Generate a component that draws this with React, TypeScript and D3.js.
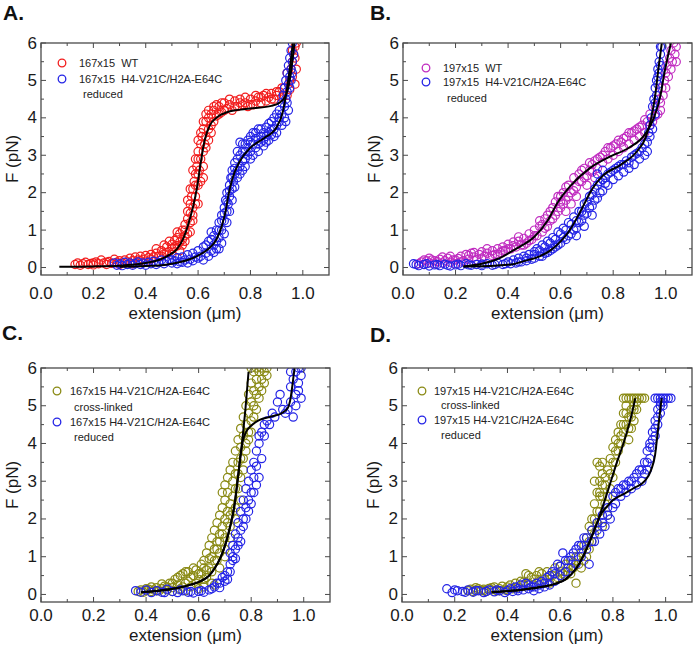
import React from 'react';
import * as d3 from 'd3';

type P = [number, number];

// ---------- axis values ----------
const X_DOMAIN: [number, number] = [0, 1.1];
const Y_DOMAIN: [number, number] = [-0.2, 6];
const xMajorTicks = [0, 0.2, 0.4, 0.6, 0.8, 1.0];
const xTickLabels = ['0.0', '0.2', '0.4', '0.6', '0.8', '1.0'];
const xMinorTicks = [0.1, 0.3, 0.5, 0.7, 0.9];
const yMajorTicks = [0, 1, 2, 3, 4, 5, 6];
const yTickLabels = ['0', '1', '2', '3', '4', '5', '6'];
const yMinorTicks = [0.5, 1.5, 2.5, 3.5, 4.5, 5.5];
const panelLetters = ['A.', 'B.', 'C.', 'D.'];
const xTitle = 'extension (μm)';
const yTitle = 'F (pN)';

// ---------- Panel A ----------
const aWT167: P[] = [
  [0.13,0.08],[0.14,0.12],[0.15,0.06],[0.16,0.1],[0.17,0.14],[0.18,0.08],[0.19,0.11],[0.2,0.07],[0.21,0.15],[0.22,0.1],
  [0.23,0.2],[0.24,0.12],[0.25,0.08],[0.26,0.16],[0.27,0.11],[0.28,0.22],[0.29,0.14],[0.3,0.18],[0.31,0.12],[0.32,0.2],
  [0.33,0.15],[0.34,0.25],[0.35,0.18],[0.36,0.28],[0.37,0.2],[0.38,0.3],[0.39,0.22],[0.4,0.32],[0.41,0.26],[0.42,0.35],
  [0.43,0.28],[0.44,0.38],[0.45,0.3],[0.46,0.45],[0.47,0.36],[0.48,0.55],[0.49,0.42],[0.5,0.62],[0.5,0.5],[0.51,0.72],
  [0.52,0.58],[0.52,0.8],[0.53,0.68],[0.53,0.9],[0.54,0.75],[0.54,1.0],[0.55,0.85],[0.55,1.15],[0.56,1.3],[0.56,1.5],
  [0.57,1.2],[0.57,1.7],[0.575,1.9],[0.58,1.6],[0.58,2.1],[0.585,2.3],[0.59,1.9],[0.59,2.5],[0.595,2.7],[0.6,2.2],
  [0.6,2.9],[0.6,3.1],[0.605,2.6],[0.61,3.3],[0.61,2.9],[0.615,3.5],[0.62,3.1],[0.62,3.7],[0.625,3.3],[0.63,3.9],
  [0.63,3.5],[0.64,4.0],[0.64,3.7],[0.65,4.1],[0.65,3.8],[0.66,4.2],[0.66,3.9],[0.67,4.05],[0.57,0.95],[0.58,1.25],
  [0.6,1.7],[0.62,2.4],[0.68,4.3],[0.69,4.15],[0.7,4.4],[0.71,4.25],[0.72,4.35],[0.73,4.2],[0.74,4.45],[0.75,4.3],
  [0.76,4.5],[0.77,4.35],[0.78,4.4],[0.79,4.3],[0.8,4.5],[0.81,4.35],[0.82,4.45],[0.83,4.55],[0.84,4.4],[0.85,4.6],
  [0.86,4.45],[0.87,4.55],[0.88,4.65],[0.89,4.5],[0.9,4.6],[0.91,4.7],[0.92,4.55],[0.93,4.8],[0.94,4.6],[0.95,5.0],
  [0.95,4.75],[0.955,5.3],[0.96,5.5],[0.96,5.1],[0.965,5.7],[0.97,5.9],[0.975,6.0],[0.97,5.6],[0.97,4.9],[0.975,5.3],
  [0.44,0.5],[0.46,0.3],[0.47,0.6],[0.48,0.4],[0.49,0.7],[0.5,0.35],[0.51,0.55],[0.52,0.95],[0.53,0.45],[0.54,0.6],
  [0.55,1.0],[0.55,0.7],[0.56,0.9],[0.56,1.8],[0.57,1.45],[0.57,2.1],[0.58,1.4],[0.58,2.6],[0.59,2.2],[0.59,1.7],
  [0.59,2.9],[0.6,2.5],[0.6,3.4],[0.61,2.3],[0.61,3.6],[0.62,2.7],[0.62,3.9],[0.63,3.2],[0.63,4.1],[0.64,3.4],
  [0.64,4.2],[0.65,3.6],[0.66,4.3],[0.67,4.35],[0.68,4.1],[0.69,4.4],[0.7,4.2],[0.72,4.5],[0.74,4.3],[0.76,4.4],
  [0.78,4.55],[0.8,4.35],[0.82,4.6],[0.84,4.55],[0.86,4.65],[0.88,4.5],[0.9,4.7],[0.92,4.8],[0.94,5.2],[0.96,5.8],
  [0.3,0.08],[0.35,0.1],[0.4,0.15],[0.25,0.14],[0.2,0.12],[0.38,0.18],[0.42,0.22]
];
const aRed167: P[] = [
  [0.28,0.12],[0.29,0.06],[0.3,0.1],[0.31,0.05],[0.32,0.14],[0.33,0.08],[0.34,0.12],[0.35,0.06],[0.36,0.1],[0.37,0.15],
  [0.38,0.08],[0.39,0.12],[0.4,0.06],[0.41,0.14],[0.42,0.1],[0.43,0.17],[0.44,0.08],[0.45,0.13],[0.46,0.2],[0.47,0.1],
  [0.48,0.16],[0.49,0.22],[0.5,0.12],[0.51,0.18],[0.52,0.26],[0.53,0.15],[0.54,0.28],[0.55,0.2],[0.56,0.34],[0.57,0.22],
  [0.58,0.38],[0.59,0.28],[0.6,0.45],[0.61,0.3],[0.62,0.55],[0.63,0.38],[0.64,0.7],[0.65,0.45],[0.66,0.85],[0.66,0.6],
  [0.67,1.0],[0.67,0.5],[0.68,1.2],[0.68,0.8],[0.65,0.95],[0.69,1.4],[0.69,1.0],[0.7,1.6],[0.7,1.25],[0.705,1.8],
  [0.71,1.5],[0.71,2.0],[0.715,1.7],[0.72,2.2],[0.72,1.9],[0.725,2.4],[0.73,2.1],[0.73,2.6],[0.735,2.3],[0.74,2.8],
  [0.74,2.5],[0.75,2.9],[0.75,2.6],[0.76,3.0],[0.76,2.7],[0.77,3.1],[0.77,2.85],[0.78,3.3],[0.78,2.9],[0.76,3.35],
  [0.79,3.4],[0.79,3.0],[0.8,3.5],[0.8,3.1],[0.81,3.3],[0.81,3.6],[0.82,3.2],[0.82,3.45],[0.83,3.7],[0.83,3.3],
  [0.84,3.5],[0.84,3.35],[0.85,3.6],[0.85,3.4],[0.86,3.75],[0.86,3.5],[0.87,3.6],[0.87,3.85],[0.88,3.55],[0.88,3.9],
  [0.89,3.7],[0.89,4.0],[0.9,3.8],[0.9,4.1],[0.91,4.2],[0.91,3.9],[0.92,4.4],[0.92,4.1],[0.925,4.6],[0.93,4.3],
  [0.93,4.8],[0.935,4.5],[0.935,5.0],[0.94,4.7],[0.94,5.2],[0.945,4.9],[0.945,5.4],[0.95,5.1],[0.95,5.6],[0.955,5.3],
  [0.955,5.8],[0.96,5.5],[0.96,6.0],[0.965,5.7],
  [0.5,0.2],[0.52,0.1],[0.54,0.14],[0.56,0.12],[0.58,0.18],[0.6,0.25],[0.62,0.2],[0.63,0.6],[0.64,0.3],[0.65,0.75],
  [0.66,0.4],[0.67,0.7],[0.68,0.5],[0.68,1.0],[0.69,0.65],[0.69,1.25],[0.7,0.9],[0.7,1.45],[0.71,1.2],[0.71,1.75],
  [0.72,1.5],[0.72,2.05],[0.73,1.8],[0.73,2.4],[0.74,2.15],[0.74,2.65],[0.75,2.4],[0.75,3.1],[0.76,2.5],[0.77,2.6],
  [0.77,3.3],[0.78,3.1],[0.78,2.7],[0.79,3.2],[0.8,2.9],[0.8,3.35],[0.81,3.0],[0.82,3.6],[0.83,3.1],[0.84,3.7],
  [0.85,3.25],[0.86,3.35],[0.87,3.4],[0.88,3.7],[0.89,3.5],[0.9,3.6],[0.91,4.0],[0.92,3.8],[0.93,4.0],[0.94,4.4],
  [0.95,4.8],[0.955,5.0],[0.96,5.2],[0.945,4.2],[0.935,3.9]
];
const aFitWT: P[] = [
  [0.07,0.02],[0.2,0.03],[0.3,0.05],[0.4,0.12],[0.45,0.2],[0.48,0.3],[0.52,0.5],[0.545,0.8],[0.56,1.1],[0.58,1.6],
  [0.595,2.1],[0.61,2.8],[0.625,3.4],[0.645,3.8],[0.67,4.0],[0.71,4.15],[0.8,4.25],[0.88,4.32],[0.91,4.4],[0.935,4.6],
  [0.95,5.0],[0.96,5.5],[0.968,6.0]
];
const aFitRed: P[] = [
  [0.3,0.02],[0.4,0.04],[0.47,0.07],[0.52,0.13],[0.56,0.2],[0.6,0.32],[0.64,0.5],[0.67,0.75],[0.69,1.1],[0.705,1.5],
  [0.715,1.9],[0.73,2.35],[0.76,2.85],[0.8,3.2],[0.85,3.45],[0.9,3.75],[0.925,4.2],[0.94,4.8],[0.952,5.4],[0.962,6.0]
];

// ---------- Panel B ----------
const bWT197: P[] = [
  [0.06,0.1],[0.07,0.15],[0.08,0.08],[0.09,0.18],[0.1,0.12],[0.11,0.2],[0.12,0.1],[0.13,0.16],[0.14,0.22],[0.15,0.12],
  [0.16,0.18],[0.17,0.25],[0.18,0.14],[0.19,0.2],[0.2,0.1],[0.21,0.24],[0.22,0.3],[0.23,0.18],[0.24,0.35],[0.25,0.22],
  [0.26,0.38],[0.27,0.28],[0.28,0.2],[0.29,0.35],[0.3,0.42],[0.31,0.3],[0.32,0.38],[0.33,0.25],[0.34,0.45],[0.35,0.35],
  [0.36,0.5],[0.37,0.4],[0.38,0.55],[0.39,0.45],[0.4,0.62],[0.41,0.5],[0.42,0.68],[0.43,0.55],[0.44,0.7],[0.45,0.6],
  [0.46,0.78],[0.47,0.65],[0.48,0.9],[0.49,0.75],[0.5,1.0],[0.51,0.85],[0.52,1.1],[0.53,0.95],[0.54,1.3],[0.55,1.1],
  [0.56,1.5],[0.57,1.3],[0.58,1.75],[0.59,1.5],[0.6,1.9],[0.6,1.6],[0.61,2.0],[0.62,1.8],[0.63,2.2],[0.64,2.0],
  [0.65,2.4],[0.66,2.15],[0.67,2.5],[0.68,2.3],[0.69,2.65],[0.7,2.45],[0.71,2.8],[0.72,2.55],[0.73,2.85],[0.74,2.65],
  [0.75,2.95],[0.62,1.5],[0.64,1.7],[0.66,1.9],[0.7,2.2],[0.73,2.4],[0.76,2.8],[0.77,3.1],[0.78,2.9],[0.79,3.2],
  [0.8,3.0],[0.81,3.3],[0.82,3.1],[0.83,3.35],[0.84,3.2],[0.85,3.5],[0.86,3.3],[0.87,3.6],[0.88,3.4],[0.89,3.7],
  [0.9,3.5],[0.91,3.8],[0.92,3.6],[0.93,3.9],[0.94,4.1],[0.95,3.9],[0.96,4.3],[0.97,4.1],[0.975,4.5],[0.98,4.4],
  [0.985,4.8],[0.99,4.6],[0.995,5.0],[1.0,5.2],[1.005,5.4],[1.01,5.1],[1.015,5.6],[1.02,5.8],[1.025,5.5],[1.03,6.0],
  [1.035,5.7],[1.04,5.9],
  [0.08,0.2],[0.1,0.25],[0.12,0.18],[0.15,0.28],[0.18,0.3],[0.2,0.2],[0.22,0.15],[0.25,0.32],[0.27,0.4],[0.3,0.25],
  [0.32,0.5],[0.34,0.32],[0.36,0.35],[0.38,0.45],[0.4,0.5],[0.42,0.58],[0.44,0.82],[0.46,0.6],[0.48,0.72],[0.5,0.85],
  [0.52,1.25],[0.53,1.15],[0.54,1.05],[0.55,1.4],[0.56,1.25],[0.57,1.6],[0.58,1.4],[0.59,1.9],[0.6,1.75],[0.61,1.7],
  [0.62,2.15],[0.63,1.9],[0.65,2.05],[0.67,2.3],[0.68,2.6],[0.69,2.4],[0.71,2.6],[0.72,2.75],[0.74,2.9],[0.76,3.0],
  [0.78,3.2],[0.8,3.25],[0.82,3.4],[0.84,3.45],[0.86,3.6],[0.88,3.65],[0.9,3.75],[0.92,3.95],[0.94,3.8],[0.96,4.05],
  [0.98,4.2],[1.0,4.8],[1.02,5.3],[1.04,5.5]
];
const bRed197: P[] = [
  [0.04,0.1],[0.06,0.05],[0.08,0.08],[0.1,0.04],[0.12,0.07],[0.14,0.05],[0.16,0.09],[0.18,0.04],[0.2,0.07],[0.22,0.05],
  [0.24,0.1],[0.26,0.06],[0.28,0.08],[0.3,0.05],[0.32,0.1],[0.34,0.06],[0.36,0.12],[0.38,0.08],[0.4,0.15],[0.41,0.1],
  [0.42,0.2],[0.43,0.12],[0.44,0.25],[0.45,0.15],[0.46,0.3],[0.47,0.18],[0.48,0.35],[0.49,0.22],[0.5,0.42],[0.5,0.25],
  [0.51,0.5],[0.52,0.3],[0.53,0.6],[0.54,0.38],[0.55,0.7],[0.56,0.45],[0.57,0.8],[0.58,0.55],[0.59,0.95],[0.6,0.65],
  [0.61,1.05],[0.62,0.75],[0.63,1.2],[0.64,0.9],[0.65,1.35],[0.66,1.05],[0.67,1.5],[0.68,1.25],[0.69,1.7],[0.7,1.45],
  [0.71,1.9],[0.72,1.65],[0.73,2.1],[0.74,1.85],[0.75,2.3],[0.76,2.05],[0.77,2.4],[0.78,2.2],[0.79,2.55],[0.8,2.35],
  [0.74,2.5],[0.76,2.6],[0.66,0.85],[0.69,1.1],[0.72,1.4],[0.81,2.65],[0.82,2.45],[0.83,2.75],[0.84,2.55],[0.85,2.85],
  [0.86,2.65],[0.87,2.95],[0.88,2.75],[0.89,3.05],[0.9,2.9],[0.91,3.2],[0.92,3.0],[0.93,3.35],[0.935,3.6],[0.94,3.8],
  [0.945,4.0],[0.95,4.3],[0.955,4.5],[0.96,4.8],[0.96,4.4],[0.965,5.0],[0.97,5.3],[0.97,4.9],[0.975,5.5],[0.98,5.7],
  [0.98,5.4],[0.985,5.9],
  [0.05,0.08],[0.09,0.1],[0.13,0.08],[0.17,0.06],[0.21,0.09],[0.25,0.07],[0.3,0.09],[0.35,0.08],[0.39,0.1],[0.44,0.15],
  [0.47,0.25],[0.5,0.35],[0.52,0.45],[0.53,0.3],[0.54,0.55],[0.55,0.4],[0.56,0.65],[0.57,0.5],[0.58,0.75],[0.59,0.6],
  [0.6,0.9],[0.61,0.8],[0.62,1.0],[0.63,0.85],[0.64,1.15],[0.65,1.0],[0.66,1.25],[0.67,1.2],[0.68,1.5],[0.69,1.4],
  [0.7,1.75],[0.71,1.6],[0.72,1.95],[0.73,1.8],[0.74,2.2],[0.75,2.0],[0.76,2.35],[0.77,2.25],[0.78,2.5],[0.8,2.6],
  [0.82,2.7],[0.84,2.75],[0.86,2.8],[0.88,3.0],[0.9,3.1],[0.92,3.3],[0.93,3.1],[0.94,3.5],[0.95,3.7],[0.96,4.1],
  [0.965,4.6],[0.97,5.1],[0.975,5.2],[0.98,5.9]
];
const bFitWT: P[] = [
  [0.23,0.03],[0.3,0.1],[0.37,0.26],[0.43,0.5],[0.5,0.82],[0.55,1.25],[0.59,1.75],[0.64,2.2],[0.71,2.65],[0.79,2.97],
  [0.86,3.2],[0.92,3.55],[0.955,4.0],[0.98,4.6],[0.995,5.2],[1.01,5.7],[1.02,6.0]
];
const bFitRed: P[] = [
  [0.23,0.03],[0.35,0.05],[0.42,0.09],[0.46,0.17],[0.52,0.3],[0.56,0.45],[0.6,0.7],[0.63,0.95],[0.66,1.3],[0.69,1.7],
  [0.72,2.1],[0.76,2.45],[0.83,2.75],[0.89,3.1],[0.925,3.5],[0.945,4.0],[0.96,4.6],[0.972,5.3],[0.985,6.0]
];

// ---------- Panel C ----------
const cCross167: P[] = [
  [0.37,0.08],[0.38,0.12],[0.39,0.06],[0.4,0.1],[0.41,0.14],[0.42,0.08],[0.43,0.12],[0.44,0.18],[0.45,0.1],[0.46,0.15],
  [0.47,0.22],[0.48,0.12],[0.49,0.3],[0.5,0.18],[0.51,0.4],[0.52,0.25],[0.53,0.5],[0.54,0.2],[0.55,0.6],[0.56,0.35],
  [0.57,0.45],[0.58,0.7],[0.59,0.3],[0.6,0.55],[0.61,0.8],[0.62,0.4],[0.63,0.65],[0.5,0.08],[0.55,0.1],[0.6,0.15],
  [0.62,0.2],[0.65,0.3],[0.66,0.25],[0.62,0.9],[0.63,1.1],[0.64,0.7],[0.64,1.3],[0.65,1.0],[0.65,1.5],[0.66,1.2],
  [0.66,1.7],[0.67,0.9],[0.67,1.4],[0.67,1.9],[0.68,1.1],[0.68,1.6],[0.68,2.1],[0.69,1.8],[0.69,2.3],[0.69,2.7],
  [0.7,1.5],[0.7,2.0],[0.7,2.5],[0.7,2.9],[0.71,2.2],[0.71,2.7],[0.71,3.1],[0.72,1.8],[0.72,2.4],[0.72,3.3],
  [0.73,2.6],[0.73,3.0],[0.73,3.5],[0.74,2.3],[0.74,3.2],[0.74,3.8],[0.75,2.8],[0.75,3.5],[0.75,4.1],[0.76,3.1],
  [0.76,3.9],[0.76,4.4],[0.77,3.6],[0.77,4.2],[0.77,4.7],[0.78,4.0],[0.78,4.5],[0.78,5.0],[0.79,4.3],[0.79,4.8],
  [0.79,5.3],[0.8,4.6],[0.8,5.1],[0.8,5.6],[0.8,6.0],[0.81,5.0],[0.81,5.4],[0.81,5.9],[0.82,5.3],[0.82,5.7],
  [0.82,6.0],[0.83,5.5],[0.83,5.9],[0.84,5.7],[0.84,6.0],[0.85,5.9],[0.86,6.0],
  [0.4,0.15],[0.42,0.2],[0.44,0.1],[0.46,0.28],[0.48,0.2],[0.5,0.3],[0.52,0.45],[0.53,0.15],[0.54,0.55],[0.55,0.3],
  [0.56,0.6],[0.57,0.2],[0.58,0.5],[0.59,0.65],[0.6,0.4],[0.61,0.55],[0.62,0.7],[0.63,0.45],[0.64,0.95],[0.65,0.6],
  [0.66,0.9],[0.67,1.2],[0.68,1.4],[0.69,1.6],[0.7,1.2],[0.71,1.9],[0.72,2.1],[0.73,2.2],[0.74,2.8],[0.75,3.2],
  [0.76,3.6],[0.77,3.3],[0.78,3.8],[0.79,4.1],[0.8,4.3],[0.81,4.7],[0.82,4.9],[0.83,5.2],[0.84,5.4],[0.85,5.6],
  [0.86,5.8],[0.68,0.7],[0.7,1.0],[0.72,1.5],[0.74,2.0],[0.76,2.5]
];
const cRed167: P[] = [
  [0.36,0.1],[0.38,0.06],[0.4,0.12],[0.42,0.05],[0.44,0.1],[0.46,0.06],[0.48,0.14],[0.5,0.08],[0.52,0.05],[0.54,0.1],
  [0.56,0.06],[0.58,0.04],[0.6,0.08],[0.62,0.06],[0.64,0.12],[0.66,0.2],[0.67,0.3],[0.68,0.18],[0.69,0.45],[0.7,0.35],
  [0.71,0.6],[0.71,0.4],[0.72,0.8],[0.72,1.1],[0.73,1.3],[0.73,0.9],[0.74,1.6],[0.74,1.2],[0.75,1.9],[0.75,1.5],
  [0.76,2.2],[0.76,1.7],[0.77,2.5],[0.77,2.0],[0.78,2.8],[0.78,2.3],[0.79,3.0],[0.79,2.5],[0.8,3.3],[0.8,2.7],
  [0.81,3.5],[0.81,3.1],[0.82,3.8],[0.82,3.4],[0.83,4.0],[0.83,3.1],[0.83,4.2],[0.84,4.3],[0.85,4.5],[0.86,4.6],
  [0.88,4.8],[0.9,5.1],[0.91,5.3],[0.93,4.8],[0.94,4.9],[0.95,5.1],[0.95,5.5],[0.96,5.7],[0.97,5.3],[0.97,5.9],
  [0.98,5.6],[0.98,6.0],[0.99,5.8],[0.99,5.2],[0.96,4.7],
  [0.47,0.05],[0.53,0.12],[0.57,0.08],[0.61,0.1],[0.65,0.15],[0.68,0.3],[0.7,0.5],[0.72,0.6],[0.73,1.0],[0.74,0.95],
  [0.75,1.3],[0.76,1.4],[0.77,1.8],[0.78,2.0],[0.79,2.2],[0.8,2.4],[0.81,2.7],[0.82,2.9],[0.84,3.6],[0.85,4.2],
  [0.87,4.5],[0.89,4.7],[0.92,4.9],[0.95,5.9],[0.97,5.0],[0.98,5.4],[0.99,6.0]
];
const cFitCross: P[] = [
  [0.38,0.06],[0.45,0.1],[0.52,0.17],[0.57,0.26],[0.61,0.36],[0.64,0.5],[0.66,0.68],[0.685,1.0],[0.705,1.4],[0.72,1.8],
  [0.735,2.3],[0.748,3.0],[0.758,3.6],[0.768,4.2],[0.778,4.9],[0.79,5.9]
];
const cFitRed: P[] = [
  [0.38,0.06],[0.45,0.1],[0.52,0.17],[0.57,0.26],[0.61,0.36],[0.64,0.5],[0.66,0.68],[0.685,1.0],[0.705,1.4],[0.72,1.8],
  [0.735,2.3],[0.748,3.0],[0.758,3.6],[0.768,4.05],[0.78,4.3],[0.8,4.47],[0.83,4.62],[0.88,4.72],[0.915,4.8],[0.94,4.95],
  [0.95,5.2],[0.958,5.6],[0.965,6.0]
];

// ---------- Panel D ----------
const dCross197: P[] = [
  [0.25,0.1],[0.26,0.14],[0.27,0.08],[0.28,0.12],[0.29,0.15],[0.3,0.1],[0.31,0.14],[0.32,0.08],[0.33,0.16],[0.34,0.12],
  [0.35,0.2],[0.36,0.1],[0.37,0.15],[0.38,0.22],[0.39,0.12],[0.4,0.2],[0.41,0.25],[0.42,0.15],[0.43,0.3],[0.44,0.2],
  [0.45,0.35],[0.46,0.25],[0.47,0.55],[0.48,0.3],[0.49,0.45],[0.5,0.25],[0.51,0.5],[0.52,0.35],[0.53,0.55],[0.54,0.4],
  [0.55,0.6],[0.56,0.3],[0.57,0.5],[0.58,0.7],[0.59,0.45],[0.6,0.75],[0.61,0.55],[0.62,0.8],[0.63,0.6],[0.64,0.9],
  [0.65,0.7],[0.66,0.3],[0.66,1.0],[0.67,0.8],[0.68,1.1],[0.69,0.9],[0.69,1.3],[0.7,1.0],[0.7,1.5],[0.71,1.2],
  [0.71,1.8],[0.72,1.4],[0.72,2.0],[0.73,1.6],[0.73,2.4],[0.74,1.9],[0.74,2.7],[0.74,3.5],[0.75,2.2],[0.75,3.0],
  [0.75,3.4],[0.76,1.8],[0.76,2.6],[0.76,3.2],[0.77,2.4],[0.77,2.9],[0.78,2.1],[0.78,3.3],[0.79,2.8],[0.79,3.6],
  [0.8,3.1],[0.8,3.9],[0.81,3.5],[0.81,4.1],[0.82,3.8],[0.82,4.3],[0.83,4.0],[0.83,4.5],[0.84,4.3],[0.84,4.8],
  [0.85,4.5],[0.85,5.0],[0.86,4.7],[0.86,4.1],[0.87,4.9],[0.87,4.4],[0.88,4.6],[0.84,5.2],[0.85,5.2],[0.86,5.2],
  [0.87,5.2],[0.88,5.2],[0.89,5.2],[0.9,5.2],[0.91,5.2],[0.92,5.2],[0.88,5.0],[0.89,4.9],
  [0.28,0.18],[0.31,0.1],[0.34,0.18],[0.37,0.1],[0.4,0.12],[0.43,0.18],[0.46,0.32],[0.48,0.5],[0.5,0.4],[0.52,0.6],
  [0.54,0.3],[0.56,0.5],[0.58,0.4],[0.6,0.6],[0.62,0.5],[0.63,0.7],[0.64,0.55],[0.65,0.85],[0.67,1.0],[0.68,0.7],
  [0.7,1.3],[0.71,1.4],[0.72,1.7],[0.73,2.0],[0.73,3.0],[0.74,2.2],[0.75,2.6],[0.76,2.9],[0.77,3.1],[0.78,2.6],
  [0.79,3.2],[0.8,3.5],[0.81,3.8],[0.82,4.0],[0.83,4.2],[0.84,4.5],[0.85,4.8],[0.86,4.4],[0.87,4.7],[0.88,4.9],
  [0.89,5.1],[0.75,2.7],[0.76,3.5]
];
const dRed197: P[] = [
  [0.17,0.15],[0.19,0.05],[0.21,0.1],[0.23,0.08],[0.25,0.12],[0.27,0.06],[0.29,0.1],[0.31,0.05],[0.33,0.12],[0.35,0.07],
  [0.37,0.1],[0.39,0.05],[0.41,0.15],[0.42,0.08],[0.43,0.2],[0.44,0.1],[0.45,0.25],[0.46,0.12],[0.47,0.3],[0.48,0.15],
  [0.49,0.2],[0.5,0.1],[0.51,0.3],[0.52,0.15],[0.53,0.35],[0.54,0.2],[0.55,0.45],[0.56,0.25],[0.57,0.6],[0.58,0.35],
  [0.59,0.8],[0.6,0.5],[0.61,1.1],[0.62,0.6],[0.63,0.9],[0.64,0.7],[0.65,1.1],[0.66,0.8],[0.67,1.3],[0.68,1.0],
  [0.69,1.5],[0.7,1.2],[0.71,0.8],[0.72,1.7],[0.73,1.4],[0.74,1.9],[0.75,1.6],[0.76,2.1],[0.77,1.8],[0.78,2.3],
  [0.79,2.0],[0.8,2.6],[0.81,2.4],[0.82,2.8],[0.83,2.6],[0.84,2.9],[0.85,2.7],[0.86,3.0],[0.87,2.8],[0.88,3.1],
  [0.89,2.9],[0.9,3.3],[0.91,3.0],[0.92,3.5],[0.93,3.3],[0.93,3.8],[0.94,3.6],[0.94,4.0],[0.95,3.9],[0.95,4.3],
  [0.96,4.2],[0.96,4.6],[0.97,4.5],[0.97,4.9],[0.98,4.8],[0.98,5.1],[0.96,5.2],[0.97,5.2],[0.98,5.2],[0.99,5.2],
  [1.0,5.2],[1.01,5.2],[1.02,5.2],[0.99,5.0],
  [0.2,0.12],[0.24,0.06],[0.28,0.1],[0.32,0.08],[0.36,0.12],[0.4,0.1],[0.44,0.15],[0.48,0.25],[0.5,0.2],[0.52,0.25],
  [0.54,0.3],[0.56,0.5],[0.58,0.55],[0.6,0.75],[0.62,0.9],[0.64,1.0],[0.66,1.2],[0.68,1.3],[0.7,1.5],[0.72,1.4],
  [0.74,1.7],[0.76,1.9],[0.78,2.1],[0.8,2.3],[0.81,2.7],[0.83,2.8],[0.85,2.9],[0.87,3.0],[0.89,3.2],[0.91,3.3],
  [0.92,3.2],[0.93,3.5],[0.94,3.9],[0.95,4.1],[0.96,4.4],[0.97,4.7],[0.98,5.0],[0.99,5.1]
];
const dFitCross: P[] = [
  [0.34,0.06],[0.45,0.12],[0.52,0.19],[0.58,0.28],[0.62,0.4],[0.66,0.68],[0.69,1.05],[0.715,1.45],[0.74,1.9],[0.76,2.3],
  [0.79,2.95],[0.815,3.5],[0.84,4.0],[0.865,4.6],[0.885,5.2]
];
const dFitRed: P[] = [
  [0.34,0.06],[0.45,0.12],[0.52,0.19],[0.58,0.28],[0.62,0.4],[0.66,0.68],[0.69,1.05],[0.715,1.45],[0.74,1.9],[0.757,2.15],
  [0.78,2.35],[0.8,2.5],[0.84,2.66],[0.88,2.82],[0.92,3.0],[0.945,3.3],[0.96,3.7],[0.97,4.3],[0.978,4.8],[0.985,5.2]
];

// ---------- colors ----------
const RED = '#f21d1d';
const BLUE = '#2424e6';
const MAGENTA = '#c02cc0';
const OLIVE = '#8a8a14';

interface LegendLine { text: string; color?: string; x: number; y: number; }
interface PanelCfg {
  x0: number; y0: number; w: number; h: number;
  letter: string; lx: number; ly: number;
  tickDy: number; titleDy: number;
  series: { data: P[]; color: string }[];
  fits: P[][];
  legend: LegendLine[]; markerX: number;
}

const panels: PanelCfg[] = [
  {
    x0: 41, y0: 43, w: 288, h: 232, letter: panelLetters[0], lx: 3, ly: 20, tickDy: 18, titleDy: 38,
    series: [{ data: aWT167, color: RED }, { data: aRed167, color: BLUE }],
    fits: [aFitWT, aFitRed], markerX: 62,
    legend: [
      { text: '167x15  WT', color: RED, x: 79, y: 63 },
      { text: '167x15  H4-V21C/H2A-E64C', color: BLUE, x: 79, y: 79 },
      { text: 'reduced', x: 83, y: 94 },
    ],
  },
  {
    x0: 403, y0: 43, w: 289, h: 232, letter: panelLetters[1], lx: 370, ly: 20, tickDy: 18, titleDy: 38,
    series: [{ data: bWT197, color: MAGENTA }, { data: bRed197, color: BLUE }],
    fits: [bFitWT, bFitRed], markerX: 426,
    legend: [
      { text: '197x15  WT', color: MAGENTA, x: 443, y: 68 },
      { text: '197x15  H4-V21C/H2A-E64C', color: BLUE, x: 443, y: 82 },
      { text: 'reduced', x: 447, y: 98 },
    ],
  },
  {
    x0: 41, y0: 368, w: 289, h: 234, letter: panelLetters[2], lx: 2, ly: 340, tickDy: 13, titleDy: 33,
    series: [{ data: cCross167, color: OLIVE }, { data: cRed167, color: BLUE }],
    fits: [cFitCross, cFitRed], markerX: 57,
    legend: [
      { text: '167x15 H4-V21C/H2A-E64C', color: OLIVE, x: 70, y: 391 },
      { text: 'cross-linked', x: 74, y: 407 },
      { text: '167x15 H4-V21C/H2A-E64C', color: BLUE, x: 70, y: 422 },
      { text: 'reduced', x: 74, y: 437 },
    ],
  },
  {
    x0: 402, y0: 368, w: 290, h: 234, letter: panelLetters[3], lx: 370, ly: 342, tickDy: 13, titleDy: 33,
    series: [{ data: dCross197, color: OLIVE }, { data: dRed197, color: BLUE }],
    fits: [dFitCross, dFitRed], markerX: 422,
    legend: [
      { text: '197x15 H4-V21C/H2A-E64C', color: OLIVE, x: 434, y: 391 },
      { text: 'cross-linked', x: 441, y: 405 },
      { text: '197x15 H4-V21C/H2A-E64C', color: BLUE, x: 434, y: 420 },
      { text: 'reduced', x: 441, y: 435 },
    ],
  },
];

const FONT = '"Liberation Sans", Arial, sans-serif';

function Panel({ cfg, idx }: { cfg: PanelCfg; idx: number }) {
  const { x0, y0, w, h } = cfg;
  const x = d3.scaleLinear().domain(X_DOMAIN).range([x0, x0 + w]);
  const y = d3.scaleLinear().domain(Y_DOMAIN).range([y0 + h, y0]);
  const line = d3.line<P>().x(d => x(d[0])).y(d => y(d[1])).curve(d3.curveMonotoneX);
  const clipId = `clip-${idx}`;
  const axisColor = '#4a4a4a';
  const major = 5, minor = 3;
  return (
    <g>
      <defs>
        <clipPath id={clipId}><rect x={x0} y={y0} width={w} height={h} /></clipPath>
      </defs>
      <g clipPath={`url(#${clipId})`}>
        {cfg.series.map((s, si) => (
          <g key={si}>
            {s.data.map((d, i) => (
              <circle key={i} cx={x(d[0])} cy={y(d[1])} r={4.1} fill="none" stroke={s.color} strokeWidth={1.2} />
            ))}
          </g>
        ))}
        {cfg.fits.map((f, fi) => (
          <path key={fi} d={line(f) || ''} fill="none" stroke="#000" strokeWidth={2} />
        ))}
      </g>
      {xMajorTicks.concat(xMinorTicks).map((t, i) => {
        const len = xMajorTicks.includes(t) ? major : minor;
        return (
          <g key={'xt' + i} stroke={axisColor} strokeWidth={1}>
            <line x1={x(t)} x2={x(t)} y1={y0 + h} y2={y0 + h - len} />
            <line x1={x(t)} x2={x(t)} y1={y0} y2={y0 + len} />
          </g>
        );
      })}
      {yMajorTicks.concat(yMinorTicks).map((t, i) => {
        const len = yMajorTicks.includes(t) ? major : minor;
        return (
          <g key={'yt' + i} stroke={axisColor} strokeWidth={1}>
            <line x1={x0} x2={x0 + len} y1={y(t)} y2={y(t)} />
            <line x1={x0 + w} x2={x0 + w - len} y1={y(t)} y2={y(t)} />
          </g>
        );
      })}
      <rect x={x0} y={y0} width={w} height={h} fill="none" stroke={axisColor} strokeWidth={1.3} />
      {xMajorTicks.map((t, i) => (
        <text key={'xl' + i} x={x(t)} y={y0 + h + cfg.tickDy} textAnchor="middle" dominantBaseline="central"
          fontFamily={FONT} fontSize={17} fill="#1a1a1a">{xTickLabels[i]}</text>
      ))}
      {yMajorTicks.map((t, i) => (
        <text key={'yl' + i} x={x0 - 4} y={y(t)} textAnchor="end" dominantBaseline="central"
          fontFamily={FONT} fontSize={17} fill="#1a1a1a">{yTickLabels[i]}</text>
      ))}
      <text x={x0 + w / 2} y={y0 + h + cfg.titleDy} textAnchor="middle" dominantBaseline="central"
        fontFamily={FONT} fontSize={17} fill="#1a1a1a">{xTitle}</text>
      <text transform={`translate(${x0 - 29},${y0 + h / 2}) rotate(-90)`} textAnchor="middle" dominantBaseline="central"
        fontFamily={FONT} fontSize={17} fill="#1a1a1a">{yTitle}</text>
      <text x={cfg.lx} y={cfg.ly} fontFamily={FONT} fontSize={21} fontWeight="bold" fill="#111">{cfg.letter}</text>
      {cfg.legend.map((l, i) => (
        <g key={'lg' + i}>
          {l.color && <circle cx={cfg.markerX} cy={l.y} r={3.8} fill="none" stroke={l.color} strokeWidth={1.3} />}
          <text x={l.x} y={l.y} dominantBaseline="central" fontFamily={FONT} fontSize={11} fill="#222"
            style={{ whiteSpace: 'pre' }}>{l.text}</text>
        </g>
      ))}
    </g>
  );
}

export default function App() {
  return (
    <svg width={693} height={646} style={{ position: 'absolute', left: 0, top: 0, background: '#fff' }}>
      <rect width={693} height={646} fill="#fff" />
      {panels.map((p, i) => <Panel key={i} cfg={p} idx={i} />)}
    </svg>
  );
}
